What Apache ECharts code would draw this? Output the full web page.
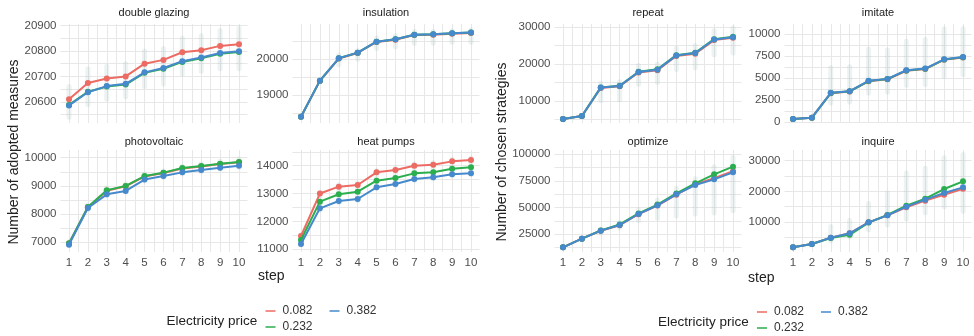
<!DOCTYPE html>
<html>
<head>
<meta charset="utf-8">
<script src="https://cdn.jsdelivr.net/npm/echarts@6/dist/echarts.min.js"></script>
<style>
  html, body { margin: 0; padding: 0; background: #ffffff; }
  #chart { width: 974px; height: 336px; }
</style>
</head>
<body>
<div id="chart"></div>
<script>
// ---- data -------------------------------------------------------------
const steps = [1, 2, 3, 4, 5, 6, 7, 8, 9, 10];
const prices = ['0.082', '0.232', '0.382'];

// Number of adopted measures (mean over runs) per electricity price
const doubleGlazing082 = [20610, 20674, 20692, 20700, 20750, 20765, 20795, 20803, 20820, 20826];
const doubleGlazing232 = [20588, 20640, 20660, 20668, 20714, 20730, 20757, 20771, 20789, 20796];
const doubleGlazing382 = [20586, 20638, 20662, 20671, 20716, 20733, 20760, 20774, 20792, 20799];
const doubleGlazingLow  = [20540, 20590, 20610, 20620, 20660, 20670, 20710, 20720, 20730, 20730];
const doubleGlazingHigh = [20660, 20730, 20740, 20750, 20800, 20810, 20850, 20860, 20880, 20890];

const insulation082 = [18390, 19395, 20020, 20178, 20485, 20550, 20680, 20690, 20719, 20738];
const insulation232 = [18393, 19402, 20028, 20187, 20495, 20560, 20690, 20700, 20729, 20748];
const insulation382 = [18393, 19402, 20028, 20187, 20495, 20560, 20690, 20700, 20729, 20748];
const insulationLow  = [18380, 19380, 19850, 20000, 20300, 20350, 20450, 20450, 20480, 20480];
const insulationHigh = [18405, 19420, 20120, 20250, 20600, 20650, 20780, 20780, 20800, 20820];

const photovoltaic082 = [6955, 8245, 8830, 8985, 9335, 9455, 9620, 9690, 9775, 9835];
const photovoltaic232 = [6965, 8250, 8843, 9000, 9350, 9470, 9632, 9703, 9786, 9850];
const photovoltaic382 = [6917, 8215, 8700, 8820, 9225, 9350, 9480, 9560, 9645, 9715];
const photovoltaicLow  = [6900, 8150, 8650, 8780, 9180, 9300, 9420, 9500, 9600, 9660];
const photovoltaicHigh = [7020, 8320, 8920, 9070, 9420, 9540, 9700, 9780, 9870, 9950];

const heatPumps082 = [11478, 13000, 13247, 13307, 13761, 13845, 14000, 14036, 14155, 14203];
const heatPumps232 = [11335, 12710, 12976, 13068, 13462, 13558, 13725, 13761, 13892, 13940];
const heatPumps382 = [11191, 12470, 12733, 12805, 13223, 13343, 13522, 13582, 13690, 13725];
const heatPumpsLow  = [11150, 12400, 12680, 12750, 13180, 13300, 13470, 13530, 13640, 13680];
const heatPumpsHigh = [11530, 13050, 13320, 13380, 13830, 13920, 14080, 14110, 14230, 14280];

// Number of chosen strategies (mean over runs) per electricity price
const repeat082 = [5040, 5850, 13500, 13950, 17700, 18300, 22200, 22800, 26500, 27100];
const repeat232 = [5045, 5856, 13650, 14100, 17900, 18550, 22400, 23050, 26750, 27400];
const repeat382 = [5045, 5856, 13600, 14054, 17838, 18468, 22342, 22973, 26667, 27297];
const repeatLow  = [4900, 5700, 10000, 10200, 14500, 15000, 18500, 19000, 22500, 23000];
const repeatHigh = [5200, 6000, 14800, 15200, 19600, 20000, 24300, 25000, 29000, 29800];

const imitate082 = [376, 526, 3300, 3500, 4650, 4880, 5850, 6040, 7100, 7350];
const imitate232 = [376, 526, 3320, 3510, 4680, 4900, 5880, 6060, 7120, 7380];
const imitate382 = [376, 526, 3346, 3534, 4700, 4925, 5902, 6090, 7143, 7406];
const imitateLow  = [300, 450, 2200, 2300, 3300, 3400, 4200, 4300, 5200, 5400];
const imitateHigh = [450, 600, 6200, 6300, 8300, 8200, 9200, 9400, 10600, 10600];

const optimize082 = [12850, 20940, 28300, 33500, 43800, 51800, 62000, 71600, 77500, 84000];
const optimize232 = [12850, 20940, 28600, 34200, 44500, 52800, 63200, 72600, 81000, 88170];
const optimize382 = [12850, 20940, 28410, 33700, 43980, 52070, 62340, 71050, 76340, 82880];
const optimizeLow  = [12000, 20000, 26000, 31000, 38000, 40000, 42000, 44000, 45000, 47000];
const optimizeHigh = [13500, 22000, 30000, 36000, 48000, 57000, 68000, 77000, 88000, 97000];

const inquire082 = [1739, 2826, 4891, 6304, 9891, 12174, 14800, 16960, 18900, 20870];
const inquire232 = [1739, 2826, 4800, 5800, 9800, 12300, 15326, 17600, 20760, 23260];
const inquire382 = [1739, 2826, 4891, 6304, 9891, 12174, 15000, 17300, 19460, 21300];
const inquireLow  = [1500, 2500, 3800, 5000, 7500, 9000, 11000, 13000, 15000, 13500];
const inquireHigh = [2000, 3100, 8500, 10500, 16000, 19500, 26000, 27500, 31000, 32000];

const facets = [
  { name: 'double glazing', series: [doubleGlazing082, doubleGlazing232, doubleGlazing382], low: doubleGlazingLow, high: doubleGlazingHigh },
  { name: 'insulation',     series: [insulation082, insulation232, insulation382],          low: insulationLow,    high: insulationHigh },
  { name: 'photovoltaic',   series: [photovoltaic082, photovoltaic232, photovoltaic382],    low: photovoltaicLow,  high: photovoltaicHigh },
  { name: 'heat pumps',     series: [heatPumps082, heatPumps232, heatPumps382],             low: heatPumpsLow,     high: heatPumpsHigh },
  { name: 'repeat',         series: [repeat082, repeat232, repeat382],                      low: repeatLow,        high: repeatHigh },
  { name: 'imitate',        series: [imitate082, imitate232, imitate382],                   low: imitateLow,       high: imitateHigh },
  { name: 'optimize',       series: [optimize082, optimize232, optimize382],                low: optimizeLow,      high: optimizeHigh },
  { name: 'inquire',        series: [inquire082, inquire232, inquire382],                   low: inquireLow,       high: inquireHigh }
];

// ---- layout -----------------------------------------------------------
const colX = [60.5, 292.5, 554.5, 784.5];
const colW = 187;
const rowY = [24, 150];
const rowH = [99, 102];
const stripY = [13, 142];
// facet index -> [column, row]
const cells = [[0, 0], [1, 0], [0, 1], [1, 1], [2, 0], [3, 0], [2, 1], [3, 1]];
// y range and major tick step of every panel
const yRanges = [
  [20517, 20906, 100], [18216, 20989, 1000], [6656, 10273, 1000], [10903, 14563, 1000],
  [3973, 30865, 10000], [-79, 11149, 2500], [8489, 103731, 25000], [212, 33491, 10000]
];

const colors = ['#EC6B63', '#2BAE4E', '#4689CC'];
const font = '"Liberation Sans", Arial, Helvetica, sans-serif';
const gridColor = '#e7e7e7';

const grids = [], xAxes = [], yAxes = [], series = [], graphics = [];

function isMultiple(v, step) {
  const r = v / step;
  return Math.abs(r - Math.round(r)) < 1e-6;
}

facets.forEach((f, i) => {
  const [c, r] = cells[i];
  const left = colX[c], top = rowY[r];
  grids.push({ left: left, top: top, width: colW, height: rowH[r], containLabel: false });

  xAxes.push({
    gridIndex: i, type: 'value', min: 0.55, max: 10.45,
    minInterval: 0.5, maxInterval: 0.5,
    axisLine: { show: false }, axisTick: { show: false },
    axisLabel: {
      show: r === 1, margin: 5, color: '#4d4d4d', fontSize: 11.5, fontFamily: font,
      showMinLabel: false, showMaxLabel: false,
      formatter: v => isMultiple(v, 1) ? String(Math.round(v)) : ''
    },
    splitLine: { show: true, showMinLine: false, showMaxLine: false, lineStyle: { color: gridColor, width: 1 } }
  });

  const [ymin, ymax, ystep] = yRanges[i];
  yAxes.push({
    gridIndex: i, type: 'value', min: ymin, max: ymax,
    minInterval: ystep / 2, maxInterval: ystep / 2,
    axisLine: { show: false }, axisTick: { show: false },
    axisLabel: {
      margin: 4, color: '#4d4d4d', fontSize: 11.5, fontFamily: font,
      showMinLabel: false, showMaxLabel: false,
      formatter: v => isMultiple(v, ystep) ? String(Math.round(v)) : ''
    },
    splitLine: { show: true, showMinLine: false, showMaxLine: false, lineStyle: { color: gridColor, width: 1 } }
  });

  // spread of the individual runs at each step
  series.push({
    type: 'custom', xAxisIndex: i, yAxisIndex: i, silent: true, z: 1,
    data: steps.map((s, k) => [s, f.low[k], f.high[k]]),
    encode: { x: 0, y: [1, 2] },
    renderItem: (params, api) => {
      const x = api.value(0);
      const pTop = api.coord([x, api.value(2)]);
      const pBot = api.coord([x, api.value(1)]);
      const w = 5;
      return {
        type: 'rect',
        shape: { x: pTop[0] - w / 2, y: pTop[1] - w / 2, width: w, height: pBot[1] - pTop[1] + w, r: w / 2 },
        style: { fill: 'rgba(130,160,160,0.14)' }
      };
    }
  });

  f.series.forEach((vals, j) => {
    series.push({
      name: prices[j], type: 'line', xAxisIndex: i, yAxisIndex: i, z: 2 + j,
      data: steps.map((s, k) => [s, vals[k]]),
      symbol: 'circle', symbolSize: 6, showSymbol: true,
      lineStyle: { color: colors[j], width: 2 },
      itemStyle: { color: colors[j] },
      emphasis: { disabled: true }
    });
  });

  // facet strip title
  graphics.push({
    type: 'text', x: left + colW / 2, y: stripY[r], silent: true,
    style: { text: f.name, fill: '#1a1a1a', font: '11px ' + font, textAlign: 'center', textVerticalAlign: 'middle' }
  });
});

// axis titles
const yTitles = [['Number of adopted measures', 14], ['Number of chosen strategies', 502]];
yTitles.forEach(([t, x]) => {
  graphics.push({
    type: 'text', x: x, y: 152, rotation: Math.PI / 2, silent: true,
    style: { text: t, fill: '#222', font: '14px ' + font, textAlign: 'center', textVerticalAlign: 'middle' }
  });
});
[[258, 276], [748, 278]].forEach(([x, y]) => {
  graphics.push({
    type: 'text', x: x, y: y, silent: true,
    style: { text: 'step', fill: '#222', font: '14px ' + font, textAlign: 'left', textVerticalAlign: 'middle' }
  });
});

// legends
function legend(x0, y0) {
  graphics.push({
    type: 'text', x: x0, y: y0 + 10, silent: true,
    style: { text: 'Electricity price', fill: '#222', font: '13.5px ' + font, textAlign: 'left', textVerticalAlign: 'middle' }
  });
  const keyX = x0 + 99;
  const slots = [[keyX, y0], [keyX, y0 + 16], [keyX + 64, y0]];
  prices.forEach((p, j) => {
    const [kx, ky] = slots[j];
    graphics.push({
      type: 'line', silent: true,
      shape: { x1: kx, y1: ky, x2: kx + 10, y2: ky },
      style: { stroke: colors[j], lineWidth: 2, opacity: 0.75 }
    });
    graphics.push({
      type: 'text', x: kx + 17, y: ky, silent: true,
      style: { text: p, fill: '#333', font: '12px ' + font, textAlign: 'left', textVerticalAlign: 'middle' }
    });
  });
}
legend(166.5, 311);
legend(658, 312);

const chart = echarts.init(document.getElementById('chart'), null, { renderer: 'canvas' });
chart.setOption({
  animation: false,
  backgroundColor: '#ffffff',
  textStyle: { fontFamily: font },
  grid: grids,
  xAxis: xAxes,
  yAxis: yAxes,
  series: series,
  graphic: graphics
});
</script>
</body>
</html>
